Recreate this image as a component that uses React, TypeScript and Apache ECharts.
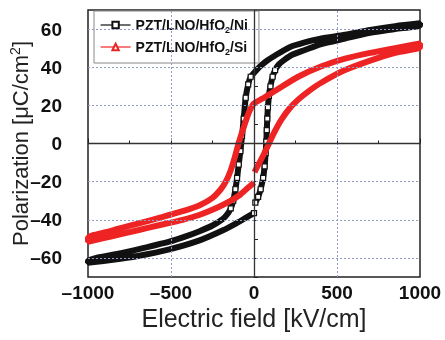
import React, { useEffect, useRef } from "react";
import * as echarts from "echarts";

// ---- data (E in kV/cm, P in µC/cm²) ----
const seriesNames = ["PZT/LNO/HfO2/Ni", "PZT/LNO/HfO2/Si"];

const niRise: number[][] = [[8,-31],[25,-28],[40,-24],[55,-18],[64,-12],[70,-5],[74,1],[77,7],[80,13],[84,19],[90,25],[99,30],[112,35],[127,38.5],[150,41.5],[185,44],[230,46.5],[306,49],[400,52],[548,55],[700,58],[850,60],[1000,62]];
const niFall: number[][] = [[1000,63],[850,61.5],[700,59.5],[548,57],[400,55],[306,53],[215,50.5],[125,46],[80,43.5],[44,41],[15,38.5],[0,37],[-20,35],[-35,31],[-50,24],[-62,13],[-72,4],[-82,-4],[-92,-11],[-102,-18],[-112,-24],[-125,-30],[-140,-34],[-160,-37],[-187,-39.5],[-250,-43],[-328,-46],[-420,-49],[-510,-51.5],[-650,-54.5],[-800,-57.5],[-1000,-61.5]];
const niReturn: number[][] = [[-1000,-62.5],[-850,-61],[-700,-59],[-510,-55.5],[-328,-50.8],[-187,-45.5],[-100,-41.5],[-50,-39],[0,-36.5]];

const siRise: number[][] = [[3,-15],[30,-10.5],[60,-5.5],[90,0],[120,5.5],[165,12.5],[215,18.5],[266,23],[330,27.5],[407,32],[548,38.5],[700,43.5],[850,47.5],[1000,50.5]];
const siFall: number[][] = [[1000,52.5],[850,50],[700,47.5],[548,44.5],[407,40.5],[266,35],[125,27.5],[50,23.5],[0,21],[-30,16.5],[-60,9],[-90,1],[-115,-7],[-140,-14],[-170,-20],[-200,-24],[-250,-28.5],[-330,-32.5],[-430,-35.5],[-550,-38.5],[-700,-42],[-850,-45.5],[-1000,-49.5]];
const siReturn: number[][] = [[-1000,-51.5],[-850,-48.5],[-700,-45.5],[-580,-43],[-430,-40],[-330,-37.5],[-230,-34],[-150,-30.5],[-86,-27],[-40,-23.5],[0,-20.5]];

const xTicks = [-1000, -500, 0, 500, 1000];
const yTicks = [-60, -40, -20, 0, 20, 40, 60];

const FONT = "'Liberation Sans', Arial, sans-serif";
const BLACK = "#111111";
const RED = "#ee2424";
const GRID = "#8e9cc4";

const fmt = (v: number) => (v < 0 ? "\u2013" + -v : String(v));

// mark only the steep parts of the black loop with hollow squares
function withSteepMarkers(pts: number[][]) {
  const sx = 0.166, sy = 1.91;
  return pts.map((p, i) => {
    const a = pts[Math.max(0, i - 1)];
    const b = pts[Math.min(pts.length - 1, i + 1)];
    const dx = Math.abs(b[0] - a[0]) * sx;
    const dy = Math.abs(b[1] - a[1]) * sy;
    const steep = dy > 1.5 * dx || i === 0 || i === pts.length - 1;
    return { value: p, symbol: steep ? "rect" : "none" };
  });
}

export default function App() {
  const ref = useRef<HTMLDivElement>(null);
  useEffect(() => {
    if (!ref.current) return;
    const chart = echarts.init(ref.current, null, { renderer: "svg" });
    const niData = withSteepMarkers([...niRise, ...niFall, ...niReturn]);
    const siData = [...siRise, ...siFall, ...siReturn];

    const gridLines: any[] = [
      ...yTicks.filter((v) => v !== 0).map((v) => ({ yAxis: v, lineStyle: { type: [2, 2], color: GRID, width: 1 } })),
      ...xTicks.filter((v) => v !== 0 && Math.abs(v) !== 1000).map((v) => ({ xAxis: v, lineStyle: { type: [2, 2], color: GRID, width: 1 } })),
      { yAxis: 0, lineStyle: { type: "solid", color: "#333", width: 1.3 } },
      { xAxis: 0, lineStyle: { type: "solid", color: "#333", width: 1.3 } },
    ];

    chart.setOption({
      animation: false,
      grid: {
        left: 88, right: 25, top: 10, bottom: 63,
        containLabel: false, outerBoundsMode: "none",
        show: true, borderColor: "#222", borderWidth: 1.5,
      },
      legend: {
        orient: "vertical",
        left: 94,
        top: 11,
        data: seriesNames,
        backgroundColor: "#fff",
        borderColor: "#888",
        borderWidth: 1,
        padding: [7, 11, 7, 6],
        itemGap: 6,
        itemWidth: 30,
        itemHeight: 8,
        lineStyle: { width: 1.2 },
        formatter: (n: string) => n.replace("HfO2", "HfO{sub|2}"),
        textStyle: {
          fontFamily: FONT,
          fontSize: 14,
          fontWeight: "bold",
          color: "#111",
          rich: { sub: { fontFamily: FONT, fontSize: 9, fontWeight: "bold", color: "#111", padding: [9, 0, 0, 0] } },
        },
      },
      xAxis: {
        type: "value",
        min: -1000,
        max: 1000,
        interval: 500,
        axisLine: { show: false },
        axisTick: { inside: true, length: 5, lineStyle: { color: "#222" } },
        minorTick: { show: true, splitNumber: 2, length: 3, lineStyle: { color: "#222" } },
        splitLine: { show: false },
        axisLabel: { formatter: fmt, fontFamily: FONT, fontSize: 19, fontWeight: "bold", color: "#111", margin: 6 },
        name: "Electric field [kV/cm]",
        nameLocation: "middle",
        nameGap: 28,
        nameMoveOverlap: false,
        nameTextStyle: { fontFamily: FONT, fontSize: 25, color: "#222" },
      },
      yAxis: {
        type: "value",
        min: -70,
        max: 70,
        interval: 10,
        axisLine: { show: false },
        axisTick: { inside: true, length: 4, lineStyle: { color: "#222" } },
        splitLine: { show: false },
        axisLabel: {
          formatter: (v: number) => (yTicks.includes(v) ? fmt(v) : ""),
          fontFamily: FONT,
          fontSize: 19,
          fontWeight: "bold",
          color: "#111",
          margin: 26,
        },
        name: "Polarization [\u03bcC/cm{sup|2}]",
        nameLocation: "middle",
        nameGap: 56,
        nameMoveOverlap: false,
        nameTextStyle: {
          fontFamily: FONT,
          fontSize: 22,
          color: "#222",
          rich: { sup: { fontFamily: FONT, fontSize: 14, color: "#222", padding: [0, 0, 10, 0] } },
        },
      },
      series: [
        {
          type: "line",
          name: "_grid",
          data: [],
          z: 1,
          silent: true,
          markLine: { silent: true, symbol: ["none", "none"], label: { show: false }, data: gridLines, animation: false },
        },
        {
          type: "line",
          name: seriesNames[0],
          data: niData,
          z: 3,
          smooth: 0.25,
          symbol: "rect",
          symbolSize: 5,
          showSymbol: true,
          showAllSymbol: true,
          lineStyle: { color: BLACK, width: 6 },
          itemStyle: { color: "#fff", borderColor: BLACK, borderWidth: 1.2 },
        },
        {
          type: "line",
          name: seriesNames[1],
          data: siData,
          z: 4,
          smooth: 0.25,
          symbol: "triangle",
          symbolSize: 6,
          showSymbol: false,
          lineStyle: { color: RED, width: 6 },
          itemStyle: { color: "#fff", borderColor: RED, borderWidth: 1.2 },
        },
      ],
    });
    return () => chart.dispose();
  }, []);
  return <div ref={ref} style={{ position: "fixed", left: 0, top: 0, width: 445, height: 340 }} />;
}
